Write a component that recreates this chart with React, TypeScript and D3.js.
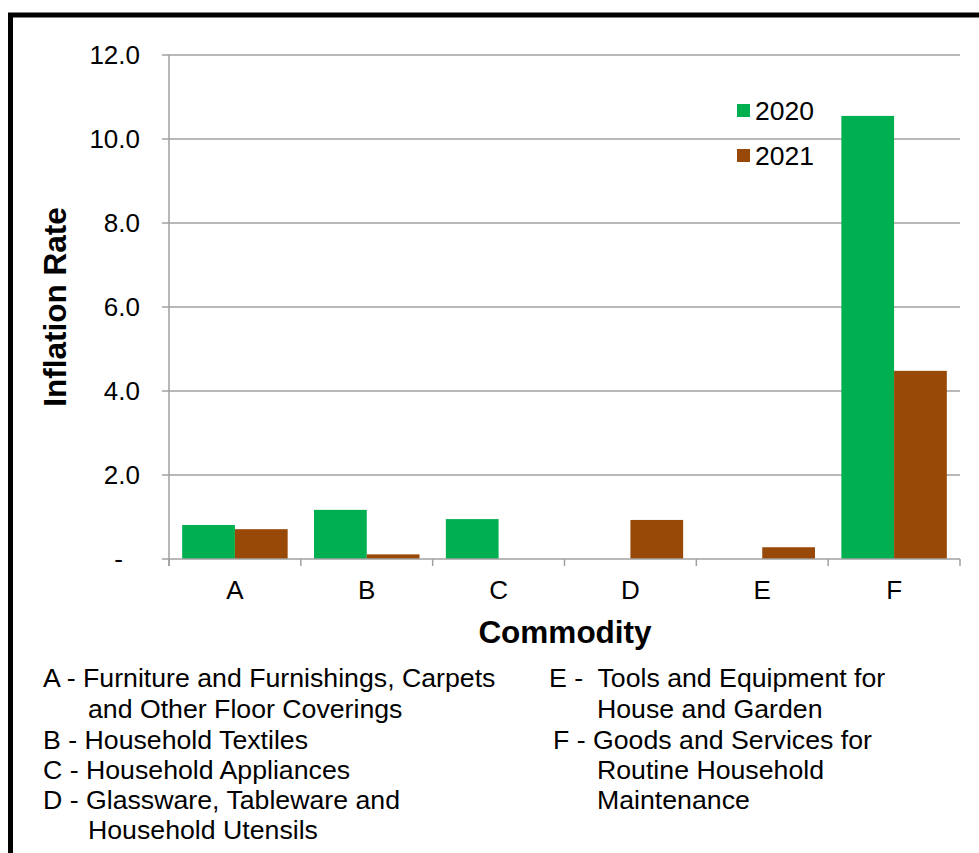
import { useRef, useEffect } from 'react'
import * as d3 from 'd3'

const categories = ['A', 'B', 'C', 'D', 'E', 'F']
const seriesNames = ['2020', '2021']
const values2020 = [0.81, 1.17, 0.95, 0, 0, 10.55]
const values2021 = [0.71, 0.11, 0, 0.93, 0.28, 4.48]
const yTicks = [0, 2, 4, 6, 8, 10, 12]

const notesLeft = [
	{ text: 'A - Furniture and Furnishings, Carpets', indent: false },
	{ text: 'and Other Floor Coverings', indent: true },
	{ text: 'B - Household Textiles', indent: false },
	{ text: 'C - Household Appliances', indent: false },
	{ text: 'D - Glassware, Tableware and', indent: false },
	{ text: 'Household Utensils', indent: true },
]
const notesRight = [
	{ text: 'E -  Tools and Equipment for', indent: false },
	{ text: 'House and Garden', indent: true },
	{ text: 'F - Goods and Services for', indent: false, shift: 4 },
	{ text: 'Routine Household', indent: true },
	{ text: 'Maintenance', indent: true },
]

const GREEN = '#00b050'
const BROWN = '#984807'
const GRID = '#a0a0a0'
const FONT = 'Liberation Sans, Arial, sans-serif'

const App = () => {
	const svgRef = useRef<SVGSVGElement | null>(null)

	useEffect(() => {
		if (!svgRef.current) return

		const width = 979
		const height = 853
		const plot = { left: 169, right: 960, top: 55, bottom: 559 }

		const svg = d3.select(svgRef.current)
		svg.selectAll('*').remove()
		svg.attr('width', width).attr('height', height)

		svg.append('rect').attr('width', width).attr('height', height).attr('fill', '#fff')

		// outer frame, runs off the right and bottom edges
		svg
			.append('rect')
			.attr('x', 10.5)
			.attr('y', 15)
			.attr('width', 1000)
			.attr('height', 900)
			.attr('fill', 'none')
			.attr('stroke', '#000')
			.attr('stroke-width', 5)

		const x = d3
			.scaleBand()
			.domain(categories)
			.range([plot.left, plot.right])
			.paddingInner(0)
			.paddingOuter(0)

		const xs = d3
			.scaleBand()
			.domain(seriesNames)
			.range([0, x.bandwidth()])
			.paddingInner(0)
			.paddingOuter(0.25)

		const y = d3.scaleLinear().domain([0, 12]).range([plot.bottom, plot.top])

		// gridlines
		svg
			.append('g')
			.selectAll('line')
			.data(yTicks.filter((d) => d > 0))
			.enter()
			.append('line')
			.attr('x1', plot.left - 7)
			.attr('x2', plot.right)
			.attr('y1', (d) => y(d))
			.attr('y2', (d) => y(d))
			.attr('stroke', GRID)
			.attr('stroke-width', 1.5)

		// y axis
		svg
			.append('line')
			.attr('x1', plot.left)
			.attr('x2', plot.left)
			.attr('y1', plot.top)
			.attr('y2', plot.bottom + 7)
			.attr('stroke', GRID)
			.attr('stroke-width', 1.5)

		svg
			.append('g')
			.selectAll('text')
			.data(yTicks)
			.enter()
			.append('text')
			.attr('x', (d) => (d === 0 ? 123 : 140))
			.attr('y', (d) => y(d) + 9.3)
			.attr('text-anchor', 'end')
			.attr('font-family', FONT)
			.attr('font-size', 26)
			.attr('fill', '#000')
			.text((d) => (d === 0 ? '-' : d3.format('.1f')(d)))

		// bars
		const rows = categories.map((c, i) => ({
			cat: c,
			vals: [
				{ key: '2020', v: values2020[i], color: GREEN },
				{ key: '2021', v: values2021[i], color: BROWN },
			],
		}))

		const groups = svg
			.append('g')
			.selectAll('g')
			.data(rows)
			.enter()
			.append('g')
			.attr('transform', (d) => `translate(${x(d.cat)},0)`)

		groups
			.selectAll('rect')
			.data((d) => d.vals.filter((v) => v.v > 0))
			.enter()
			.append('rect')
			.attr('x', (d) => xs(d.key)!)
			.attr('width', xs.bandwidth())
			.attr('y', (d) => y(d.v))
			.attr('height', (d) => y(0) - y(d.v))
			.attr('fill', (d) => d.color)

		// x axis
		svg
			.append('line')
			.attr('x1', plot.left - 7)
			.attr('x2', plot.right)
			.attr('y1', plot.bottom)
			.attr('y2', plot.bottom)
			.attr('stroke', GRID)
			.attr('stroke-width', 1.5)

		const boundaries = categories.map((c) => x(c)!).concat([plot.right])
		svg
			.append('g')
			.selectAll('line')
			.data(boundaries)
			.enter()
			.append('line')
			.attr('x1', (d) => d)
			.attr('x2', (d) => d)
			.attr('y1', plot.bottom)
			.attr('y2', plot.bottom + 7)
			.attr('stroke', GRID)
			.attr('stroke-width', 1.5)

		svg
			.append('g')
			.selectAll('text')
			.data(categories)
			.enter()
			.append('text')
			.attr('x', (d) => x(d)! + x.bandwidth() / 2)
			.attr('y', 599)
			.attr('text-anchor', 'middle')
			.attr('font-family', FONT)
			.attr('font-size', 26)
			.text((d) => d)

		// axis titles
		svg
			.append('text')
			.attr('x', 565)
			.attr('y', 643)
			.attr('text-anchor', 'middle')
			.attr('font-family', FONT)
			.attr('font-size', 31.5)
			.attr('font-weight', 'bold')
			.text('Commodity')

		svg
			.append('text')
			.attr('transform', 'translate(66,307) rotate(-90)')
			.attr('text-anchor', 'middle')
			.attr('font-family', FONT)
			.attr('font-size', 31.5)
			.attr('font-weight', 'bold')
			.text('Inflation Rate')

		// legend
		const legend = svg
			.append('g')
			.selectAll('g')
			.data([
				{ name: seriesNames[0], color: GREEN },
				{ name: seriesNames[1], color: BROWN },
			])
			.enter()
			.append('g')
			.attr('transform', (_, i) => `translate(737,${104 + i * 45})`)
		legend.append('rect').attr('width', 13).attr('height', 13).attr('fill', (d) => d.color)
		legend
			.append('text')
			.attr('x', 18)
			.attr('y', 16)
			.attr('font-family', FONT)
			.attr('font-size', 26.5)
			.text((d) => d.name)

		// commodity key
		const lineY = [687, 718, 749, 779, 809, 839]
		svg
			.append('g')
			.selectAll('text')
			.data(notesLeft)
			.enter()
			.append('text')
			.attr('x', (d) => (d.indent ? 88 : 43))
			.attr('y', (_, i) => lineY[i])
			.attr('font-family', FONT)
			.attr('font-size', 26.7)
			.text((d) => d.text)

		svg
			.append('g')
			.selectAll('text')
			.data(notesRight)
			.enter()
			.append('text')
			.attr('x', (d) => (d.indent ? 597 : 549 + (d.shift ?? 0)))
			.attr('y', (_, i) => lineY[i])
			.attr('font-family', FONT)
			.attr('font-size', 26.7)
			.attr('xml:space', 'preserve')
			.style('white-space', 'pre')
			.text((d) => d.text)
	}, [])

	return (
		<svg
			ref={svgRef}
			style={{ position: 'absolute', left: 0, top: 0, display: 'block' }}
		></svg>
	)
}

export default App
